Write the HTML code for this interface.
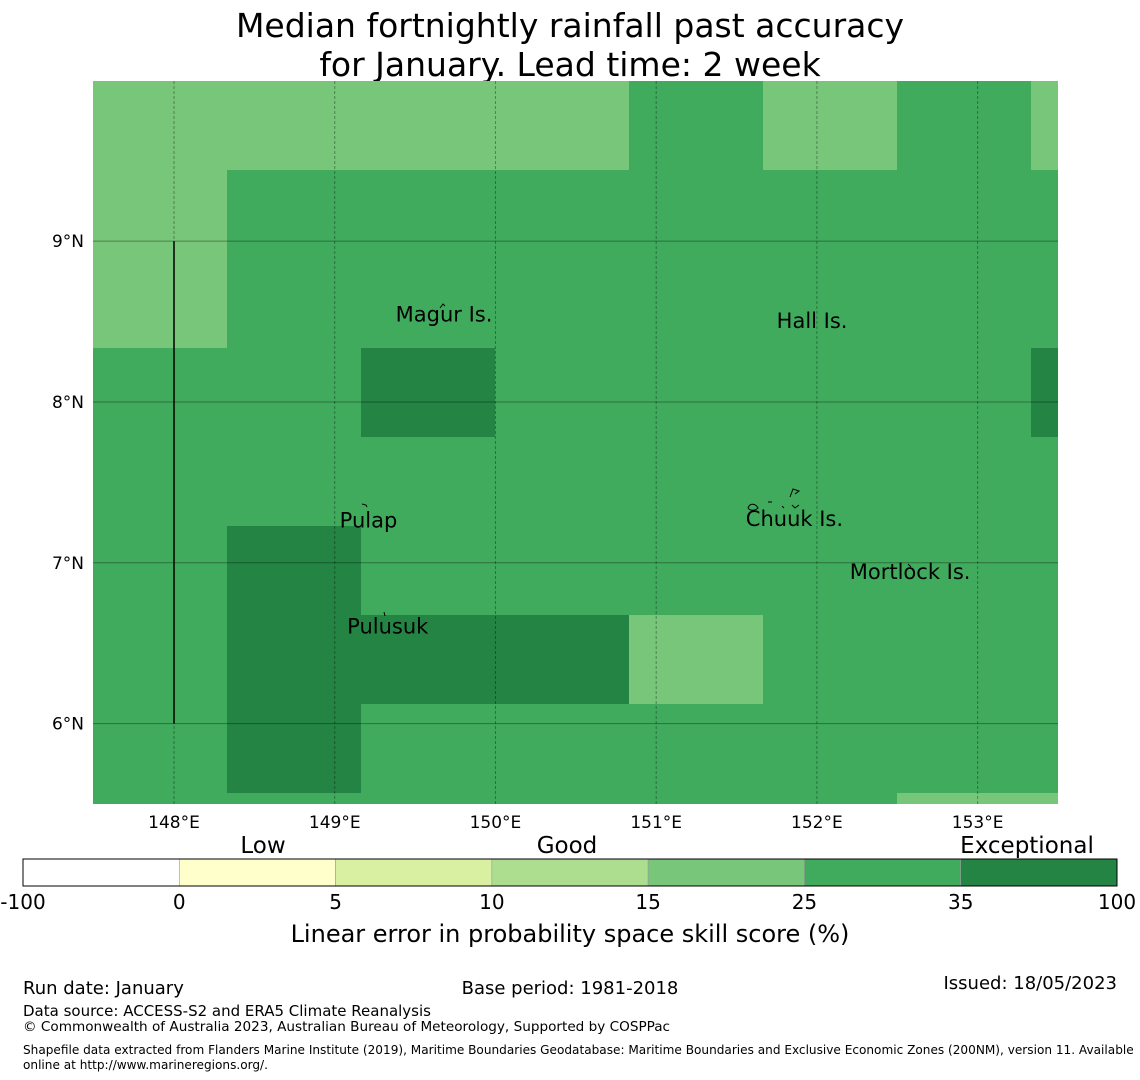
<!DOCTYPE html>
<html><head><meta charset="utf-8">
<style>
body{margin:0;background:#fff;font-family:"DejaVu Sans","Liberation Sans",sans-serif;}
svg{display:block}
</style></head>
<body>
<svg id="chart" width="1140" height="1080" xmlns="http://www.w3.org/2000/svg">
<text x="570" y="37" font-size="33" text-anchor="middle">Median fortnightly rainfall past accuracy</text>
<text x="570" y="76" font-size="33" text-anchor="middle">for January. Lead time: 2 week</text>
<g id="map"></g>
<g id="cbar"></g>
<text x="263" y="853" font-size="23" text-anchor="middle">Low</text>
<text x="567" y="853" font-size="23" text-anchor="middle">Good</text>
<text x="1027" y="853" font-size="23" text-anchor="middle">Exceptional</text>
<text x="570" y="942" font-size="24" text-anchor="middle">Linear error in probability space skill score (%)</text>
<text x="23" y="994" font-size="18">Run date: January</text>
<text x="570" y="994" font-size="18" text-anchor="middle">Base period: 1981-2018</text>
<text x="1117" y="989" font-size="18" text-anchor="end">Issued: 18/05/2023</text>
<text x="23" y="1016" font-size="15">Data source: ACCESS-S2 and ERA5 Climate Reanalysis</text>
<text x="23" y="1031" font-size="13.6">© Commonwealth of Australia 2023, Australian Bureau of Meteorology, Supported by COSPPac</text>
<text x="23" y="1054" font-size="12.1">Shapefile data extracted from Flanders Marine Institute (2019), Maritime Boundaries Geodatabase: Maritime Boundaries and Exclusive Economic Zones (200NM), version 11. Available</text>
<text x="23" y="1069" font-size="12.1">online at http://www.marineregions.org/.</text>
</svg>
<script>
const lonTicks=[148,149,150,151,152,153];
const latTicks=[9,8,7,6];
const cbBounds=[-100,0,5,10,15,25,35,100];
const cbColors=["#ffffff","#ffffcc","#d9f0a3","#addd8e","#78c679","#41ab5d","#238443"];
const grid=[
[20,20,20,20,30,20,30,20],
[20,30,30,30,30,30,30,30],
[20,30,30,30,30,30,30,30],
[30,30,40,30,30,30,30,40],
[30,30,30,30,30,30,30,30],
[30,40,30,30,30,30,30,30],
[30,40,40,40,20,30,30,30],
[30,40,30,30,30,30,30,30],
[30,30,30,30,30,30,20,20]];
const islands=[["Magur Is.",149.68,8.50],["Hall Is.",151.97,8.46],["Pulap",149.21,7.22],["Chuuk Is.",151.86,7.23],["Mortlock Is.",152.58,6.90],["Pulusuk",149.33,6.56]];
const NS="http://www.w3.org/2000/svg";
const X0=93,X1=1058,Y0=81,Y1=804,LON0=147.496,LON1=153.5,LAT0=9.996,LAT1=5.5;
const xS=l=>X0+(l-LON0)/(LON1-LON0)*(X1-X0);
const yS=l=>Y0+(LAT0-l)/(LAT0-LAT1)*(Y1-Y0);
const cw=134,ch=89;
function col(v){for(let i=0;i<cbColors.length;i++)if(v<cbBounds[i+1])return cbColors[i];return cbColors[cbColors.length-1];}
function mk(t,a,p){const e=document.createElementNS(NS,t);for(const k in a)e.setAttribute(k,a[k]);p.appendChild(e);return e;}
const map=document.getElementById('map');
grid.forEach((row,r)=>row.forEach((v,c)=>{
 const x=X0+c*cw,y=Y0+r*ch;
 const e=mk('rect',{x:x,y:y,width:Math.min(cw,X1-x),height:Math.min(ch,Y1-y),fill:col(v)},map);
 
 
}));
lonTicks.forEach(l=>{const x=xS(l);
 const g=mk('line',{x1:x,x2:x,y1:Y0,y2:Y1,stroke:'#000','stroke-opacity':0.35,'stroke-width':1,'stroke-dasharray':'3,2'},map);
 
 
 const t=mk('text',{x:x,y:828,'font-size':17,'text-anchor':'middle'},map);t.textContent=l+'°E';
 
 
});
latTicks.forEach(l=>{const y=yS(l);
 const g=mk('line',{x1:X0,x2:X1,y1:y,y2:y,stroke:'#000','stroke-opacity':0.35,'stroke-width':1},map);
 
 
 const t=mk('text',{x:84,y:y+6,'font-size':17,'text-anchor':'end'},map);t.textContent=l+'°N';
 
 
});
const bl=mk('line',{x1:xS(148),x2:xS(148),y1:yS(9),y2:yS(6),stroke:'#000','stroke-width':1.5},map);


const outl=mk('path',{d:'M440 308l3-4 2 2M362 504l4 1 1 2M384 612l1 4M790 497l3-8 6 2-4 3M792 505l3 3 4-3M748 508c2-6 8-4 10 0c-3 3-8 3-10 0M768 502l4 0M782 506l2 2M908 564l3 3',fill:'none',stroke:'#000','stroke-width':1},map);


islands.forEach(d=>{
 const t=mk('text',{x:xS(d[1]),y:yS(d[2]),'font-size':21,'text-anchor':'middle'},map);t.textContent=d[0];
 
 
});
const cb=document.getElementById('cbar');
const CX0=23,CW=1094/7;
cbColors.forEach((c,i)=>{
 const r=mk('rect',{x:CX0+i*CW,y:859,width:CW,height:27,fill:c,stroke:'#999','stroke-width':0.6},cb);
 
 
});
mk('rect',{x:CX0,y:859,width:1094,height:27,fill:'none',stroke:'#000','stroke-width':1},cb);
cbBounds.forEach((b,i)=>{
 const t=mk('text',{x:CX0+i*CW,y:909,'font-size':20,'text-anchor':'middle'},cb);t.textContent=b;
 
 
});
</script>
</body></html>
